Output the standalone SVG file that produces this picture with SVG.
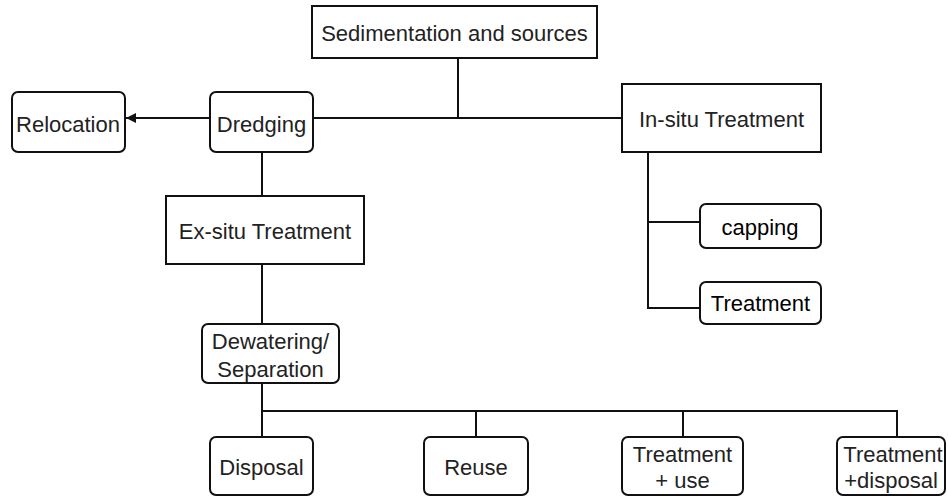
<svg xmlns="http://www.w3.org/2000/svg" width="948" height="497" viewBox="0 0 948 497">
<style>
.box{fill:#fff;stroke:#111;stroke-width:2}
.t{font-family:"Liberation Sans",Arial,sans-serif;font-size:22px;fill:#222;text-anchor:middle}
.dk{fill:#000}
.ln{fill:none;stroke:#111;stroke-width:2}
</style>
<defs>
<marker id="ah" viewBox="0 0 10 10" refX="10" refY="5" markerWidth="10" markerHeight="10" markerUnits="userSpaceOnUse" orient="auto">
<path d="M0,0 L10,5 L0,10 Z" fill="#111"/>
</marker>
</defs>
<rect width="948" height="497" fill="#fff"/>
<g id="connectors">
<path class="ln" d="M458,58 V118"/>
<path class="ln" d="M313,118 H622"/>
<path class="ln" d="M210,118 H126" marker-end="url(#ah)"/>
<path class="ln" d="M262,152 V196"/>
<path class="ln" d="M262,264 V324"/>
<path class="ln" d="M648,152 V308 H700"/>
<path class="ln" d="M648,222 H700"/>
<path class="ln" d="M262,383 V437"/>
<path class="ln" d="M262,411 H897 V437"/>
<path class="ln" d="M476,411 V437"/>
<path class="ln" d="M683,411 V437"/>
</g>
<g id="sedimentation">
<rect class="box" x="312" y="6" width="285" height="52"/>
<text class="t" x="454.5" y="41">Sedimentation and sources</text>
</g>
<g id="relocation">
<rect class="box" x="12" y="92" width="113" height="60" rx="6"/>
<text class="t" x="68" y="132">Relocation</text>
</g>
<g id="dredging">
<rect class="box" x="210" y="92" width="103" height="60" rx="6"/>
<text class="t" x="261.5" y="132">Dredging</text>
</g>
<g id="insitu">
<rect class="box" x="622" y="84" width="199" height="68"/>
<text class="t" x="721.5" y="127">In-situ Treatment</text>
</g>
<g id="capping">
<rect class="box" x="700" y="204" width="121" height="44" rx="6"/>
<text class="t dk" x="760" y="235">capping</text>
</g>
<g id="treatment-insitu">
<rect class="box" x="700" y="282" width="121" height="42" rx="6"/>
<text class="t dk" x="760.5" y="311">Treatment</text>
</g>
<g id="exsitu">
<rect class="box" x="166" y="196" width="198" height="68"/>
<text class="t" x="265" y="239">Ex-situ Treatment</text>
</g>
<g id="dewatering">
<rect class="box" x="202" y="324" width="137" height="59" rx="6"/>
<text class="t" x="270.5" y="349">Dewatering/</text>
<text class="t" x="270.5" y="377">Separation</text>
</g>
<g id="disposal">
<rect class="box" x="210" y="437" width="103" height="58" rx="6"/>
<text class="t" x="261.5" y="475">Disposal</text>
</g>
<g id="reuse">
<rect class="box" x="424" y="437" width="104" height="58" rx="6"/>
<text class="t" x="476" y="475">Reuse</text>
</g>
<g id="treatment-use">
<rect class="box" x="622" y="437" width="121" height="58" rx="6"/>
<text class="t" x="682.5" y="462">Treatment</text>
<text class="t" x="682.5" y="488">+ use</text>
</g>
<g id="treatment-disposal">
<rect class="box" x="837" y="437" width="108" height="58" rx="6"/>
<text class="t" x="893" y="462">Treatment</text>
<text class="t" x="891" y="488">+disposal</text>
</g>
</svg>
